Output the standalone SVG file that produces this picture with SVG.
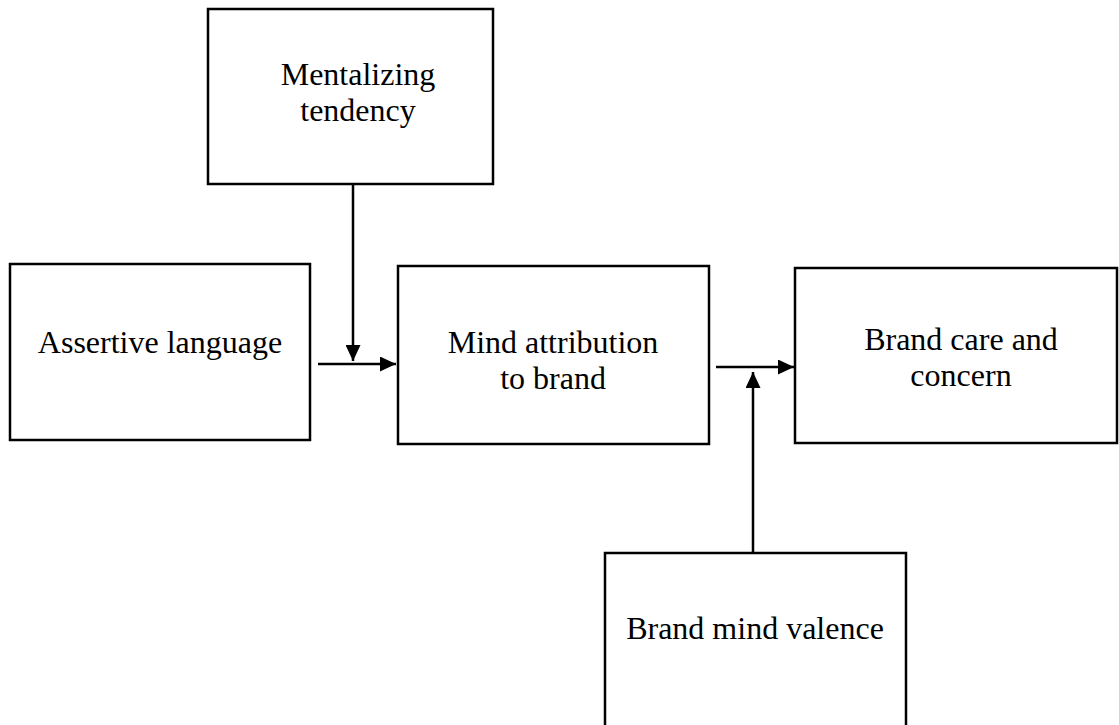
<svg xmlns="http://www.w3.org/2000/svg" width="1119" height="725" viewBox="0 0 1119 725">
<style>
.box{fill:#fff;stroke:#000;stroke-width:2.5}
.lbl{font-family:"Liberation Serif","Times New Roman",serif;font-size:32px;fill:#000;text-anchor:middle}
.con{stroke:#000;stroke-width:2.5;fill:none}
</style>
<defs>
<marker id="ah" markerUnits="userSpaceOnUse" markerWidth="16" markerHeight="15" refX="16" refY="7.5" orient="auto">
<path d="M0,0 L16,7.5 L0,15 z" fill="#000"/>
</marker>
</defs>
<rect width="1119" height="725" fill="#fff"/>
<g id="mentalizing">
<rect class="box" x="208" y="9" width="285" height="175"/>
<text class="lbl" x="358" y="85">Mentalizing</text>
<text class="lbl" x="358" y="121">tendency</text>
</g>
<g id="assertive">
<rect class="box" x="10" y="264" width="300" height="176"/>
<text class="lbl" x="160" y="353">Assertive language</text>
</g>
<g id="mind">
<rect class="box" x="398" y="266" width="311" height="178"/>
<text class="lbl" x="553" y="353">Mind attribution</text>
<text class="lbl" x="553" y="389">to brand</text>
</g>
<g id="care">
<rect class="box" x="795" y="268" width="322" height="175"/>
<text class="lbl" x="961" y="350">Brand care and</text>
<text class="lbl" x="961" y="386">concern</text>
</g>
<g id="valence">
<rect class="box" x="605" y="553" width="301" height="190"/>
<text class="lbl" x="755" y="639">Brand mind valence</text>
</g>
<g id="connectors">
<line class="con" x1="318" y1="364" x2="396" y2="364" marker-end="url(#ah)"/>
<line class="con" x1="353" y1="184" x2="353" y2="361" marker-end="url(#ah)"/>
<line class="con" x1="716" y1="367" x2="794" y2="367" marker-end="url(#ah)"/>
<line class="con" x1="753" y1="553" x2="753" y2="372" marker-end="url(#ah)"/>
</g>
</svg>
